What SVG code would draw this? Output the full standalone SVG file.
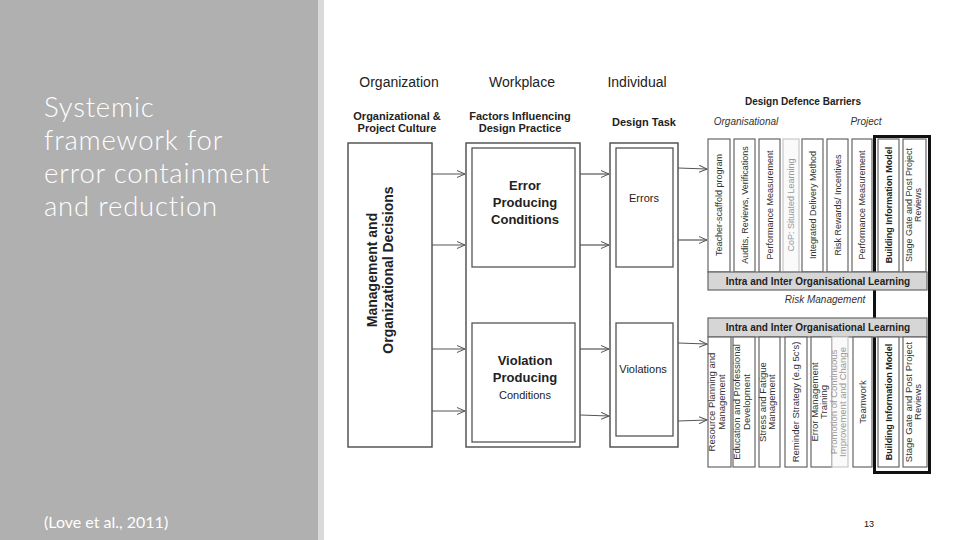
<svg xmlns="http://www.w3.org/2000/svg" width="960" height="540" viewBox="0 0 960 540">
<defs>
<marker id="ah" markerWidth="9" markerHeight="8" refX="8" refY="4" orient="auto" markerUnits="userSpaceOnUse">
<path d="M0,0.5 L8,4 L0,7.5" fill="none" stroke="#555" stroke-width="1"/>
</marker>
<style>
.box{fill:#fff;stroke:#555;stroke-width:1.5}
.ibox{fill:#fff;stroke:#555;stroke-width:1.3}
.col{fill:#fff;stroke:#666;stroke-width:1.2}
.colf{fill:#fafafa;stroke:#c8c8c8;stroke-width:1.2}
.bar{fill:#d6d6d6;stroke:#666;stroke-width:1.2}
.hd{font-family:"Liberation Sans",Arial,sans-serif;font-size:14px;fill:#222;text-anchor:middle}
.sh{font-family:"Liberation Sans",Arial,sans-serif;font-size:11px;font-weight:bold;fill:#222;text-anchor:middle}
.it{font-family:"Liberation Sans",Arial,sans-serif;font-size:10px;font-style:italic;fill:#333;text-anchor:middle}
.bt{font-family:"Liberation Sans",Arial,sans-serif;font-size:13px;font-weight:bold;fill:#222;text-anchor:middle}
.mt{font-family:"Liberation Sans",Arial,sans-serif;font-size:14px;font-weight:bold;fill:#222;text-anchor:middle}
.nt{font-family:"Liberation Sans",Arial,sans-serif;font-size:11px;fill:#222;text-anchor:middle}
.ct{font-family:"Liberation Sans",Arial,sans-serif;font-size:9px;fill:#333;text-anchor:middle}
.cb{font-family:"Liberation Sans",Arial,sans-serif;font-size:9.5px;fill:#333;text-anchor:middle}
.ctb{font-family:"Liberation Sans",Arial,sans-serif;font-size:9px;font-weight:bold;fill:#222;text-anchor:middle}
.ctf{font-family:"Liberation Sans",Arial,sans-serif;font-size:9px;fill:#999;text-anchor:middle}
.cbf{font-family:"Liberation Sans",Arial,sans-serif;font-size:9.5px;fill:#999;text-anchor:middle}
.bl{font-family:"Liberation Sans",Arial,sans-serif;font-size:10px;font-weight:bold;fill:#222;text-anchor:middle}
.cn{fill:none;stroke:#555;stroke-width:1.2;marker-end:url(#ah)}
.ttl{font-family:Lato,"Open Sans","Liberation Sans",sans-serif;font-weight:300;font-size:27.5px;letter-spacing:0.8px;fill:#fff}
</style>
</defs>
<rect x="0" y="0" width="960" height="540" fill="#fff"/>
<g id="side-panel">
<rect x="0" y="0" width="318" height="540" fill="#b0b0b0"/>
<rect x="318" y="0" width="6" height="540" fill="#d9d9d9"/>
<text class="ttl" x="44" y="117">Systemic</text>
<text class="ttl" x="44" y="150">framework for</text>
<text class="ttl" x="44" y="183">error containment</text>
<text class="ttl" x="44" y="216">and reduction</text>
<text x="44" y="528" font-family="Lato, Open Sans, Liberation Sans, sans-serif" font-size="16" fill="#fff">(Love et al., 2011)</text>
</g>
<g id="headers">
<text class="hd" x="399" y="87">Organization</text>
<text class="hd" x="522" y="87">Workplace</text>
<text class="hd" x="637" y="87">Individual</text>
<text class="sh" x="397" y="120">Organizational &amp;</text>
<text class="sh" x="397" y="132">Project Culture</text>
<text class="sh" x="520" y="120">Factors Influencing</text>
<text class="sh" x="520" y="132">Design Practice</text>
<text class="sh" x="644" y="126">Design Task</text>
<text class="bl" x="803" y="105">Design Defence Barriers</text>
<text class="it" x="746" y="125">Organisational</text>
<text class="it" x="866" y="125">Project</text>
</g>
<g id="management">
<rect class="box" x="348" y="143" width="84" height="304"/>
<text class="mt" transform="translate(377,270) rotate(-90)">Management and</text>
<text class="mt" transform="translate(393,270) rotate(-90)">Organizational Decisions</text>
</g>
<g id="workplace">
<rect class="box" x="466" y="143" width="114" height="304"/>
</g>
<g id="error-conditions">
<rect class="ibox" x="472" y="148" width="103" height="119"/>
<text class="bt" x="525" y="190">Error</text>
<text class="bt" x="525" y="207">Producing</text>
<text class="bt" x="525" y="224">Conditions</text>
</g>
<g id="violation-conditions">
<rect class="ibox" x="472" y="323" width="103" height="119"/>
<text class="bt" x="525" y="365">Violation</text>
<text class="bt" x="525" y="382">Producing</text>
<text class="nt" x="525" y="399" font-size="13">Conditions</text>
</g>
<g id="individual">
<rect class="box" x="610" y="143" width="68" height="304"/>
</g>
<g id="errors">
<rect class="ibox" x="616" y="148" width="57" height="119"/>
<text class="nt" x="644" y="202">Errors</text>
</g>
<g id="violations">
<rect class="ibox" x="616" y="323" width="57" height="113"/>
<text class="nt" x="643" y="373">Violations</text>
</g>
<g id="project-frame">
<rect x="874.5" y="136.5" width="55" height="336" fill="none" stroke="#111" stroke-width="3"/>
</g>
<g id="barriers-top">
<rect class="col" x="708" y="139" width="22" height="133"/>
<text class="ct" transform="translate(719,205) rotate(-90)" dy="3">Teacher-scaffold program</text>
<rect class="col" x="734" y="139" width="21" height="133"/>
<text class="ct" transform="translate(744.5,205) rotate(-90)" dy="3">Audits, Reviews, Verifications</text>
<rect class="col" x="759" y="139" width="21" height="133"/>
<text class="ct" transform="translate(769.5,205) rotate(-90)" dy="3">Performance Measurement</text>
<rect class="colf" x="783" y="139" width="16" height="133"/>
<text class="ctf" transform="translate(791,205) rotate(-90)" dy="3">CoP: Situated Learning</text>
<rect class="col" x="802" y="139" width="21" height="133"/>
<text class="ct" transform="translate(812.5,205) rotate(-90)" dy="3">Integrated Delivery Method</text>
<rect class="col" x="827" y="139" width="21" height="133"/>
<text class="ct" transform="translate(837.5,205) rotate(-90)" dy="3">Risk Rewards/ Incentives</text>
<rect class="col" x="852" y="139" width="20" height="133"/>
<text class="ct" transform="translate(862,205) rotate(-90)" dy="3">Performance Measurement</text>
<rect class="col" x="878" y="139" width="21" height="133"/>
<text class="ctb" transform="translate(888.5,205) rotate(-90)" dy="3">Building Information Model</text>
<rect class="col" x="903" y="139" width="23" height="133"/>
<text class="ct" transform="translate(912,205) rotate(-90)">Stage Gate and Post Project</text>
<text class="ct" transform="translate(921,205) rotate(-90)">Reviews</text>
</g>
<g id="learning-top">
<rect class="bar" x="708" y="272" width="219" height="18"/>
<text class="bl" x="818" y="285">Intra and Inter Organisational Learning</text>
</g>
<g id="risk-management">
<text class="it" x="825" y="303" font-size="9">Risk Management</text>
</g>
<g id="learning-bottom">
<rect class="bar" x="708" y="318" width="219" height="19"/>
<text class="bl" x="818" y="331">Intra and Inter Organisational Learning</text>
</g>
<g id="barriers-bottom">
<rect class="col" x="708" y="337" width="23" height="130"/>
<text class="cb" transform="translate(715,402) rotate(-90)">Resource Planning and</text>
<text class="cb" transform="translate(725,402) rotate(-90)">Management</text>
<rect class="col" x="733" y="337" width="22" height="130"/>
<text class="cb" transform="translate(740,402) rotate(-90)">Education and Professional</text>
<text class="cb" transform="translate(750,402) rotate(-90)">Development</text>
<rect class="col" x="759" y="337" width="21" height="130"/>
<text class="cb" transform="translate(765.5,402) rotate(-90)">Stress and Fatigue</text>
<text class="cb" transform="translate(775,402) rotate(-90)">Management</text>
<rect class="col" x="785" y="337" width="22" height="130"/>
<text class="cb" transform="translate(796,402) rotate(-90)" dy="3">Reminder Strategy (e.g 5c's)</text>
<rect class="col" x="811" y="337" width="21" height="130"/>
<text class="cb" transform="translate(817.5,402) rotate(-90)">Error Management</text>
<text class="cb" transform="translate(827,402) rotate(-90)">Training</text>
<rect class="colf" x="832" y="337" width="16" height="130"/>
<text class="cbf" transform="translate(836.5,402) rotate(-90)">Promotion of Continuous</text>
<text class="cbf" transform="translate(845.5,402) rotate(-90)">Improvement and Change</text>
<rect class="col" x="853" y="337" width="19" height="130"/>
<text class="cb" transform="translate(862.5,402) rotate(-90)" dy="3">Teamwork</text>
<rect class="col" x="878" y="337" width="21" height="130"/>
<text class="ctb" transform="translate(888.5,402) rotate(-90)" dy="3">Building Information Model</text>
<rect class="col" x="903" y="337" width="24" height="130"/>
<text class="cb" transform="translate(912,402) rotate(-90)">Stage Gate and Post Project</text>
<text class="cb" transform="translate(921,402) rotate(-90)">Reviews</text>
</g>
<g id="page-number">
<text x="869" y="527" font-family="Liberation Sans, Arial, sans-serif" font-size="9" fill="#111" text-anchor="middle">13</text>
</g>
<g id="connectors">
<line class="cn" x1="432" y1="174" x2="465" y2="174"/>
<line class="cn" x1="432" y1="245" x2="465" y2="245"/>
<line class="cn" x1="432" y1="349" x2="465" y2="349"/>
<line class="cn" x1="432" y1="411" x2="465" y2="411"/>
<line class="cn" x1="580" y1="174" x2="609" y2="174"/>
<line class="cn" x1="580" y1="245" x2="609" y2="245"/>
<line class="cn" x1="580" y1="349" x2="609" y2="349"/>
<line class="cn" x1="580" y1="415" x2="609" y2="416"/>
<line class="cn" x1="678" y1="168" x2="707" y2="169"/>
<line class="cn" x1="678" y1="240" x2="707" y2="240"/>
<line class="cn" x1="678" y1="343" x2="707" y2="344"/>
<line class="cn" x1="678" y1="421" x2="707" y2="420"/>
</g>
</svg>
